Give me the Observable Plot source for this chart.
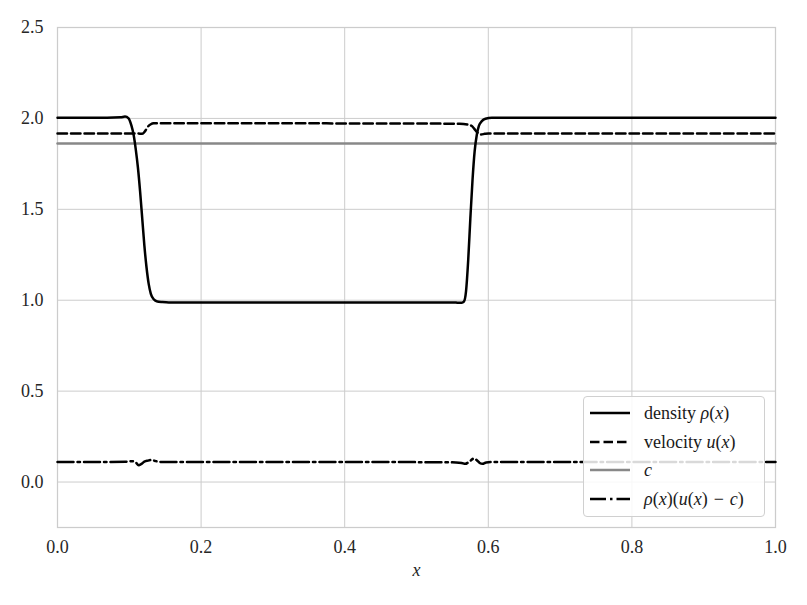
<!DOCTYPE html>
<html>
<head>
<meta charset="utf-8">
<script src="https://cdn.jsdelivr.net/npm/d3@7"></script>
<script src="https://cdn.jsdelivr.net/npm/@observablehq/plot@0.6"></script>
<style>
  html, body { margin: 0; padding: 0; background: #fff; }
  #wrap { position: relative; width: 807px; height: 605px; font-family: "Liberation Serif", "Times New Roman", "DejaVu Serif", serif; }
  #chart svg text { font-family: "Liberation Serif", "Times New Roman", "DejaVu Serif", serif; }
  #legend { position: absolute; left: 583px; top: 396px; width: 182px; height: 121px; box-sizing: border-box;
    border: 1px solid #d0d0d0; border-radius: 4px; background: rgba(255,255,255,0.85);
    font-size: 18px; color: #1a1a1a; }
  .row { position: absolute; left: 5px; height: 22px; display: flex; align-items: center; white-space: nowrap; }
  .row svg { width: 42px; height: 10px; margin-right: 13px; flex: none; }
  i { font-style: italic; }
  .op { padding: 0 6px; }
</style>
</head>
<body>
<div id="wrap">
  <div id="chart"></div>
  <div id="legend"></div>
</div>
<script>
// ---- data ----
const densityX = [0, 0.05, 0.088, 0.094, 0.099, 0.103, 0.106, 0.109, 0.112, 0.115, 0.118, 0.121, 0.124, 0.127, 0.130, 0.134, 0.139, 0.146, 0.155, 0.3, 0.45, 0.552, 0.558, 0.563, 0.566, 0.569, 0.572, 0.575, 0.578, 0.581, 0.584, 0.587, 0.591, 0.596, 0.605, 0.7, 1.0];
const densityY = [2.003, 2.003, 2.006, 2.01, 2.0, 1.96, 1.91, 1.83, 1.73, 1.6, 1.45, 1.3, 1.18, 1.09, 1.035, 1.005, 0.993, 0.99, 0.988, 0.988, 0.988, 0.988, 0.986, 0.986, 0.992, 1.05, 1.22, 1.45, 1.66, 1.82, 1.91, 1.96, 1.985, 1.998, 2.003, 2.003, 2.003];

const velocityX = [0, 0.05, 0.112, 0.118, 0.122, 0.126, 0.130, 0.134, 0.14, 0.3, 0.5, 0.56, 0.572, 0.578, 0.582, 0.586, 0.59, 0.595, 0.6, 0.7, 1.0];
const velocityY = [1.917, 1.917, 1.917, 1.915, 1.93, 1.955, 1.968, 1.973, 1.974, 1.973, 1.972, 1.970, 1.965, 1.955, 1.935, 1.918, 1.912, 1.915, 1.917, 1.917, 1.917];

const cX = [0, 1];
const cY = [1.862, 1.862];

const fluxX = [0, 0.05, 0.095, 0.104, 0.109, 0.113, 0.117, 0.121, 0.126, 0.131, 0.136, 0.142, 0.15, 0.3, 0.45, 0.555, 0.563, 0.568, 0.572, 0.576, 0.58, 0.584, 0.588, 0.592, 0.597, 0.605, 0.7, 1.0];
const fluxY = [0.11, 0.11, 0.112, 0.115, 0.108, 0.092, 0.1, 0.112, 0.118, 0.122, 0.116, 0.111, 0.11, 0.11, 0.11, 0.108, 0.105, 0.1, 0.108, 0.12, 0.13, 0.12, 0.105, 0.1, 0.108, 0.11, 0.11, 0.11];

const xTicks = [0, 0.2, 0.4, 0.6, 0.8, 1.0];
const yTicks = [0, 0.5, 1.0, 1.5, 2.0, 2.5];

const toRows = (xs, ys) => xs.map((x, i) => ({x, y: ys[i]}));
const fmt = d3.format(".1f");

const chart = Plot.plot({
  width: 807,
  height: 605,
  marginLeft: 57,
  marginRight: 32,
  marginTop: 27,
  marginBottom: 78,
  style: {fontFamily: "'Liberation Serif', 'Times New Roman', serif", fontSize: "18px", color: "#262626", background: "#fff"},
  x: {domain: [0, 1]},
  y: {domain: [-0.25, 2.5]},
  marks: [
    Plot.gridX(xTicks, {stroke: "#cccccc", strokeOpacity: 1, strokeWidth: 1}),
    Plot.gridY(yTicks, {stroke: "#cccccc", strokeOpacity: 1, strokeWidth: 1}),
    Plot.frame({stroke: "#cccccc", strokeWidth: 1.25}),
    Plot.axisX(xTicks, {tickSize: 0, tickPadding: 13, tickFormat: fmt, label: null, fontSize: 18, fill: "#262626"}),
    Plot.axisY(yTicks, {tickSize: 0, tickPadding: 14, tickFormat: fmt, label: null, fontSize: 18, fill: "#262626"}),
    Plot.text(["x"], {frameAnchor: "bottom", dy: 48, text: d => d, fontStyle: "italic", fontSize: 18, fill: "#262626"}),
    Plot.line(toRows(cX, cY), {x: "x", y: "y", stroke: "#888888", strokeWidth: 2.5}),
    Plot.line(toRows(velocityX, velocityY), {x: "x", y: "y", stroke: "#000", strokeWidth: 2.5, strokeDasharray: "9.5,4", curve: "monotone-x"}),
    Plot.line(toRows(fluxX, fluxY), {x: "x", y: "y", stroke: "#000", strokeWidth: 2.5, strokeDasharray: "16,4,2.5,4", curve: "monotone-x"}),
    Plot.line(toRows(densityX, densityY), {x: "x", y: "y", stroke: "#000", strokeWidth: 2.5, curve: "monotone-x"})
  ]
});
document.getElementById("chart").appendChild(chart);

// ---- legend ----
const legendItems = [
  {label: 'density <i>ρ</i>(<i>x</i>)', stroke: "#000", dash: null},
  {label: 'velocity <i>u</i>(<i>x</i>)', stroke: "#000", dash: "9.5,4"},
  {label: '<i>c</i>', stroke: "#888", dash: null},
  {label: '<i>ρ</i>(<i>x</i>)(<i>u</i>(<i>x</i>)<span class="op">−</span><i>c</i>)', stroke: "#000", dash: "16,4,2.5,4"}
];
const tops = [5, 34, 62, 91];
const leg = document.getElementById("legend");
legendItems.forEach((it, i) => {
  const row = document.createElement("div");
  row.className = "row";
  row.style.top = tops[i] + "px";
  row.innerHTML = `<svg viewBox="0 0 42 10"><line x1="1" y1="5" x2="41" y2="5" stroke="${it.stroke}" stroke-width="2.5" ${it.dash ? `stroke-dasharray="${it.dash}"` : ""}/></svg><span>${it.label}</span>`;
  leg.appendChild(row);
});
</script>
</body>
</html>
